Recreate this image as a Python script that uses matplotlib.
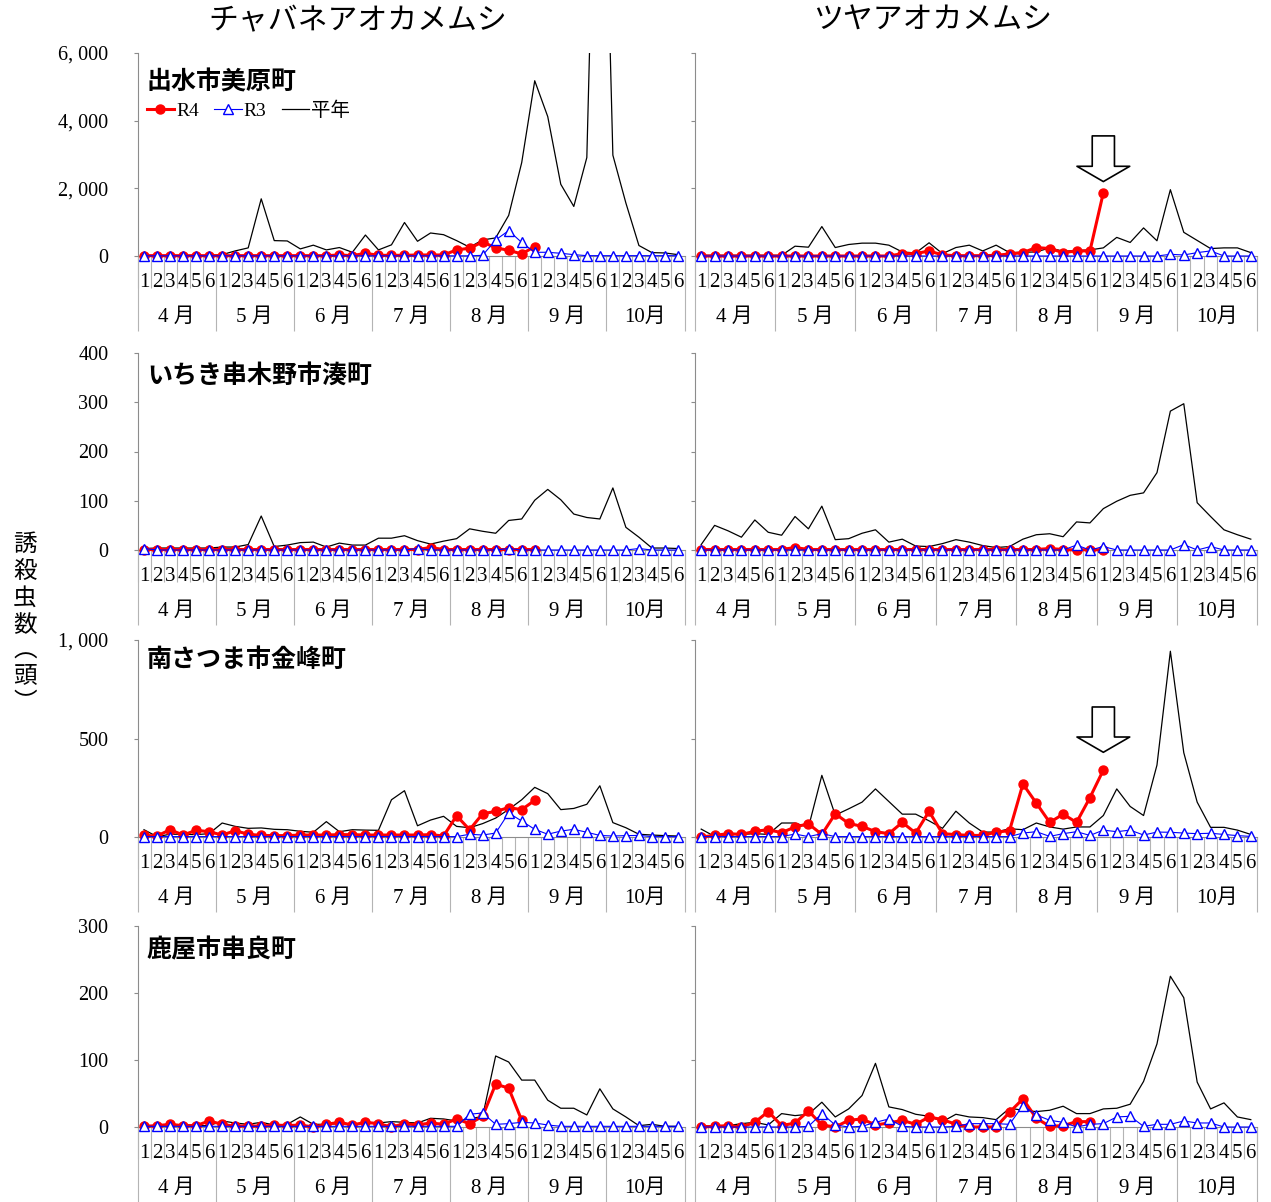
import numpy as np
import matplotlib
matplotlib.use("Agg")
import matplotlib.pyplot as plt
from matplotlib.ticker import FuncFormatter

plt.rcParams['font.family'] = ['Liberation Serif', 'Noto Sans CJK JP']

# ---- labels ----
species = ["チャバネアオカメムシ", "ツヤアオカメムシ"]
sites = ["出水市美原町", "いちき串木野市湊町", "南さつま市金峰町", "鹿屋市串良町"]
months = ["4 月", "5 月", "6 月", "7 月", "8 月", "9 月", "10月"]
periods = ["1", "2", "3", "4", "5", "6"] * 7
y_max = [6000, 400, 1000, 300]
y_ticks = [[0, 2000, 4000, 6000], [0, 100, 200, 300, 400], [0, 500, 1000], [0, 100, 200, 300]]

# ---- data (half-decade counts, Apr 1 .. Oct 6) ----
# 出水市美原町
chaba_izumi_avg = [10, 10, 10, 10, 10, 10, 40, 150, 240, 1690, 455, 445, 210, 320, 180, 250, 110, 620,
                   180, 330, 990, 435, 680, 630, 455, 260, 475, 535, 1200, 2760, 5180, 4120, 2120, 1465,
                   2910, 18000, 2980, 1565, 310, 100, 90, 40]
chaba_izumi_r4 = [10, 10, 10, 10, 10, 10, 10, 10, 10, 10, 10, 10, 10, 10, 10, 30, 10, 80,
                  20, 20, 20, 30, 30, 30, 180, 230, 415, 240, 170, 60, 280]
chaba_izumi_r3 = [5, 5, 5, 5, 5, 5, 5, 5, 5, 5, 5, 5, 5, 5, 5, 5, 5, 5, 5, 5, 5, 5, 5, 5,
                  5, 5, 20, 475, 750, 400, 110, 110, 80, 40, 10, 10, 10, 10, 10, 10, 10, 10]
tsuya_izumi_avg = [20, 20, 20, 20, 20, 20, 20, 290, 260, 870, 250, 340, 380, 380, 320, 120, 90, 390,
                   70, 250, 320, 150, 320, 100, 110, 120, 240, 140, 160, 180, 240, 550, 400, 830,
                   450, 1960, 700, 460, 220, 240, 240, 100]
tsuya_izumi_r4 = [0, 0, 0, 0, 0, 0, 0, 0, 0, 0, 0, 0, 0, 0, 0, 70, 70, 150,
                  30, 10, 10, 10, 20, 60, 100, 250, 220, 100, 150, 150, 1870]
tsuya_izumi_r3 = [0, 0, 0, 0, 0, 0, 0, 0, 0, 0, 0, 0, 0, 0, 0, 0, 0, 0, 0, 0, 0, 0, 0, 0,
                  0, 0, 0, 0, 0, 0, 0, 0, 0, 0, 0, 50, 30, 100, 150, 0, 0, 0]

# いちき串木野市湊町
chaba_ichiki_avg = [3, 4, 4, 4, 4, 4, 6, 6, 11, 69, 7, 10, 15, 16, 6, 14, 10, 10, 24, 24, 29, 19, 12, 18,
                    23, 43, 38, 34, 60, 63, 101, 123, 102, 73, 66, 63, 126, 46, 26, 4, 4, 3]
chaba_ichiki_r4 = [1, 1, 1, 1, 1, 1, 1, 1, 1, 1, 1, 1, 1, 1, 1, 1, 1, 1, 1, 1, 1, 1, 5, 1,
                   1, 1, 1, 1, 1, 1, 1]
chaba_ichiki_r3 = [3, 0, 0, 0, 0, 0, 0, 0, 0, 0, 0, 0, 0, 0, 0, 0, 0, 0, 0, 0, 0, 3, 0, 0,
                   0, 0, 0, 0, 3, 0, 0, 0, 0, 0, 0, 0, 0, 0, 3, 0, 0, 0]
tsuya_ichiki_avg = [11, 50, 39, 26, 61, 36, 30, 68, 43, 89, 21, 23, 34, 41, 16, 22, 8, 7, 13, 21, 16, 9, 5, 7,
                    22, 31, 33, 27, 57, 55, 84, 99, 111, 116, 157, 282, 297, 96, 68, 41, 31, 22]
tsuya_ichiki_r4 = [1, 1, 1, 1, 1, 1, 1, 5, 1, 1, 1, 1, 1, 1, 1, 1, 1, 1, 1, 1, 1, 1, 1, 1,
                   1, 1, 3, 1, 0, 1, 0]
tsuya_ichiki_r3 = [0, 0, 0, 0, 0, 0, 0, 0, 0, 0, 0, 0, 0, 0, 0, 0, 0, 0, 0, 0, 0, 0, 0, 0,
                   0, 0, 0, 0, 10, 0, 7, 0, 0, 0, 0, 0, 11, 0, 7, 0, 0, 0]

# 南さつま市金峰町
chaba_minami_avg = [37, 2, 14, 14, 12, 17, 71, 54, 44, 46, 39, 37, 29, 24, 78, 27, 37, 35, 34, 189, 235, 57,
                    86, 105, 54, 47, 68, 96, 140, 189, 252, 220, 139, 145, 166, 260, 73, 47, 14, 10, 7, 5]
chaba_minami_r4 = [8, 5, 37, 10, 34, 27, 10, 32, 14, 8, 7, 7, 10, 10, 10, 12, 12, 10, 10, 10, 10, 10, 12, 5,
                   108, 37, 118, 130, 149, 139, 186]
chaba_minami_r3 = [2, 2, 2, 2, 2, 2, 2, 2, 2, 2, 2, 2, 2, 2, 2, 2, 2, 2, 2, 2, 2, 2, 2, 2,
                   2, 14, 10, 20, 122, 81, 39, 14, 30, 39, 24, 8, 5, 7, 8, 2, 2, 2]
tsuya_minami_avg = [40, 3, 13, 13, 17, 13, 71, 71, 49, 313, 111, 143, 177, 244, 180, 116, 116, 82, 44, 131,
                    71, 25, 25, 42, 37, 71, 51, 40, 51, 51, 109, 244, 155, 109, 365, 943, 428, 177, 49, 49,
                    35, 13]
tsuya_minami_r4 = [0, 8, 17, 13, 29, 37, 22, 51, 67, 13, 118, 69, 54, 27, 17, 74, 20, 130, 17, 12, 8, 8, 25, 32,
                   269, 172, 74, 116, 74, 200, 340]
tsuya_minami_r3 = [2, 2, 2, 2, 2, 2, 2, 15, 2, 17, 2, 2, 2, 2, 2, 2, 2, 2, 2, 2, 2, 2, 2, 2,
                   20, 27, 3, 17, 27, 8, 35, 27, 35, 10, 25, 24, 20, 17, 19, 13, 7, 3]

# 鹿屋市串良町
chaba_kanoya_avg = [2, 2, 2, 4, 2, 2, 9, 6, 4, 7, 3, 4, 15, 4, 4, 5, 5, 5, 6, 8, 7, 6, 13, 12,
                    9, 12, 16, 106, 97, 70, 70, 40, 28, 28, 18, 57, 27, 15, 2, 4, 1, 1]
chaba_kanoya_r4 = [1, 2, 4, 2, 2, 9, 4, 1, 2, 1, 3, 2, 3, 0, 4, 7, 3, 7, 5, 0, 5, 3, 6, 4,
                   12, 5, 16, 64, 58, 10]
chaba_kanoya_r3 = [1, 1, 1, 1, 1, 1, 1, 1, 1, 1, 1, 1, 1, 1, 1, 1, 1, 1, 1, 1, 1, 1, 1, 1,
                   1, 19, 21, 4, 5, 7, 6, 3, 1, 1, 1, 1, 1, 1, 1, 1, 1, 1]
tsuya_kanoya_avg = [2, 1, 2, 5, 7, 3, 20, 17, 19, 37, 15, 27, 47, 95, 30, 26, 19, 16, 8, 19, 15, 14, 11, 28,
                    25, 23, 25, 31, 20, 20, 27, 28, 34, 68, 124, 225, 193, 67, 27, 36, 15, 11]
tsuya_kanoya_r4 = [0, 1, 2, 0, 7, 23, 2, 6, 24, 3, 0, 10, 12, 3, 6, 10, 4, 15, 11, 4, 0, 0, 0, 22,
                   42, 13, 1, 2, 8, 8]
tsuya_kanoya_r3 = [0, 0, 0, 0, 0, 0, 0, 0, 1, 20, 3, 0, 1, 7, 12, 1, 0, 0, 0, 1, 5, 5, 5, 4,
                   32, 18, 10, 7, 0, 4, 5, 15, 16, 1, 4, 4, 9, 6, 6, 0, 0, 0]

panels = [
    [(chaba_izumi_r4, chaba_izumi_r3, chaba_izumi_avg), (tsuya_izumi_r4, tsuya_izumi_r3, tsuya_izumi_avg)],
    [(chaba_ichiki_r4, chaba_ichiki_r3, chaba_ichiki_avg), (tsuya_ichiki_r4, tsuya_ichiki_r3, tsuya_ichiki_avg)],
    [(chaba_minami_r4, chaba_minami_r3, chaba_minami_avg), (tsuya_minami_r4, tsuya_minami_r3, tsuya_minami_avg)],
    [(chaba_kanoya_r4, chaba_kanoya_r3, chaba_kanoya_avg), (tsuya_kanoya_r4, tsuya_kanoya_r3, tsuya_kanoya_avg)],
]

# ---- layout (pixels of a 1271 x 1202 figure) ----
W, H = 1271, 1202
col_x = [(137.5, 547), (694.5, 563)]
row_y = [(53, 256), (353, 550), (640, 837), (926, 1127)]
title_y = [0.857, 0.883, 0.90, 0.88]
grey = "#8c8c8c"
sep = "#b4b4b4"

fig = plt.figure(figsize=(W / 100, H / 100), dpi=100)

fmt = FuncFormatter(lambda v, p: f"{int(v):,}".replace(",", ", "))

for r in range(4):
    for c in range(2):
        x0, w = col_x[c]
        top, bot = row_y[r]
        ax = fig.add_axes([x0 / W, 1 - bot / H, w / W, (bot - top) / H])
        r4, r3, avg = panels[r][c]

        ax.plot(range(len(avg)), avg, color="black", lw=0.9, zorder=2)
        ax.plot(range(len(r4)), r4, color="#ff0000", lw=2.2, marker="o", ms=6.5,
                clip_on=False, zorder=3, label="R4")
        ax.plot(range(len(r3)), r3, color="#0000ff", lw=0.8, marker="^", ms=7,
                mfc="white", mec="#0000ff", mew=1, clip_on=False, zorder=4, label="R3")

        ax.set_xlim(-0.5, 41.5)
        ax.set_ylim(0, y_max[r])
        for s in ["top", "right"]:
            ax.spines[s].set_visible(False)
        for s in ["left", "bottom"]:
            ax.spines[s].set_color(grey)
            ax.spines[s].set_linewidth(0.8)

        ax.set_yticks(y_ticks[r])
        if c == 0:
            ax.yaxis.set_major_formatter(fmt)
        else:
            ax.set_yticklabels([])
        ax.tick_params(axis="y", length=3, color=grey, width=0.8, labelsize=14.5, pad=18)

        # half-decade numbers with short separators
        ax.set_xticks(np.arange(42))
        ax.set_xticklabels(periods)
        ax.set_xticks(np.arange(-0.5, 42, 1), minor=True)
        ax.tick_params(axis="x", which="major", length=0, pad=12, labelsize=15)
        ax.tick_params(axis="x", which="minor", length=23, color=sep, width=0.8)

        # months with long separators
        sec = ax.secondary_xaxis("bottom")
        sec.spines["bottom"].set_visible(False)
        sec.set_xticks(np.arange(-0.5, 42, 6))
        sec.set_xticklabels([""] * 8)
        sec.set_xticks(np.arange(2.5, 42, 6), minor=True)
        sec.set_xticklabels(months, minor=True)
        sec.tick_params(axis="x", which="major", length=54, color=sep, width=0.8)
        sec.tick_params(axis="x", which="minor", length=0, pad=37.5, labelsize=15)

        if c == 0:
            ax.text(0.017, title_y[r], sites[r], transform=ax.transAxes, ha="left", va="center",
                    fontsize=18, fontweight="bold", family="Noto Sans CJK JP")

        if r == 0 and c == 0:
            ax.plot([], [], color="black", lw=0.9, label="平年")
            ax.legend(loc="center left", bbox_to_anchor=(0.01, 0.714), ncol=3, frameon=False,
                      fontsize=14, handlelength=1.4, handletextpad=0.1, columnspacing=0.8,
                      borderaxespad=0, borderpad=0.2)

        if c == 1 and r in (0, 2):
            tip, tail = (2200, 3550) if r == 0 else (430, 660)
            ax.annotate("", xy=(30, tip), xytext=(30, tail),
                        arrowprops=dict(arrowstyle="simple,head_length=11,head_width=38,tail_width=16",
                                        fc="white", ec="black", lw=1.2, shrinkA=0, shrinkB=0,
                                        mutation_scale=1))

# column titles and y label
fig.text(358 / W, 1 - 22 / H, species[0], ha="center", va="center", fontsize=21.5)
fig.text(933 / W, 1 - 22 / H, species[1], ha="center", va="center", fontsize=21.5)
fig.text(25 / W, 1 - 624 / H, "誘\n殺\n虫\n数\n︵\n頭\n︶", ha="center", va="center",
         fontsize=17, linespacing=1.3)

fig.savefig("out.png", dpi=100, facecolor="white")
